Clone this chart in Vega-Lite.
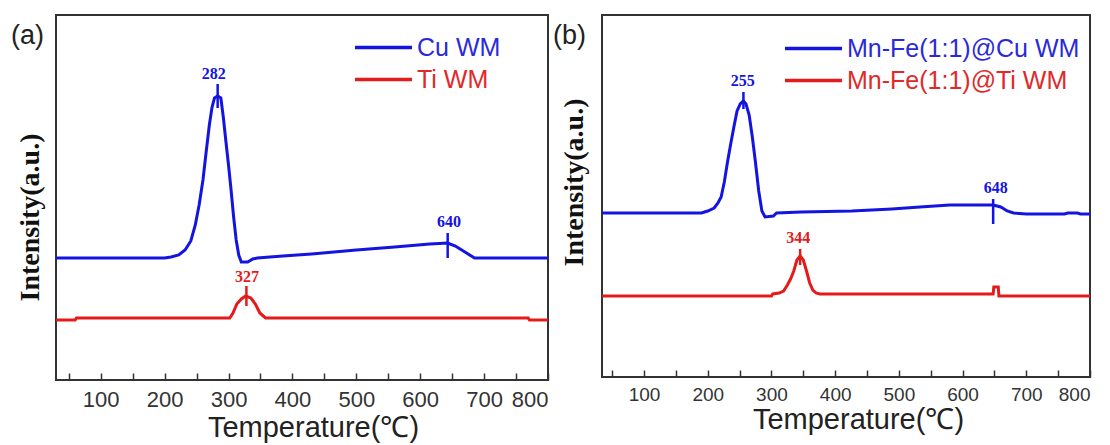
{
  "$schema": "https://vega.github.io/schema/vega-lite/v6.json",
  "background": "white",
  "padding": {"left": 10, "top": 14, "right": 0, "bottom": 0},
  "spacing": -3,
  "config": {
    "view": {"stroke": "#333333", "strokeWidth": 2},
    "font": "Liberation Sans",
    "axis": {"grid": false, "domain": false}
  },
  "resolve": {"scale": {"color": "independent"}, "legend": {"color": "independent"}},
  "datasets": {
    "a_curves": [
      {"series": "Cu WM", "temperature": 30, "intensity": 122},
      {"series": "Cu WM", "temperature": 200, "intensity": 122},
      {"series": "Cu WM", "temperature": 210, "intensity": 123},
      {"series": "Cu WM", "temperature": 222, "intensity": 125},
      {"series": "Cu WM", "temperature": 232, "intensity": 130},
      {"series": "Cu WM", "temperature": 241, "intensity": 139},
      {"series": "Cu WM", "temperature": 248, "intensity": 155},
      {"series": "Cu WM", "temperature": 254, "intensity": 175},
      {"series": "Cu WM", "temperature": 260, "intensity": 200},
      {"series": "Cu WM", "temperature": 265, "intensity": 228},
      {"series": "Cu WM", "temperature": 270, "intensity": 255},
      {"series": "Cu WM", "temperature": 274, "intensity": 272},
      {"series": "Cu WM", "temperature": 278, "intensity": 282},
      {"series": "Cu WM", "temperature": 283, "intensity": 284},
      {"series": "Cu WM", "temperature": 288, "intensity": 282},
      {"series": "Cu WM", "temperature": 292, "intensity": 262},
      {"series": "Cu WM", "temperature": 296, "intensity": 238},
      {"series": "Cu WM", "temperature": 300, "intensity": 215},
      {"series": "Cu WM", "temperature": 304, "intensity": 190},
      {"series": "Cu WM", "temperature": 308, "intensity": 163},
      {"series": "Cu WM", "temperature": 312, "intensity": 140},
      {"series": "Cu WM", "temperature": 316, "intensity": 125},
      {"series": "Cu WM", "temperature": 320, "intensity": 118},
      {"series": "Cu WM", "temperature": 330, "intensity": 118},
      {"series": "Cu WM", "temperature": 338, "intensity": 121},
      {"series": "Cu WM", "temperature": 345, "intensity": 122},
      {"series": "Cu WM", "temperature": 385, "intensity": 124},
      {"series": "Cu WM", "temperature": 430, "intensity": 126},
      {"series": "Cu WM", "temperature": 500, "intensity": 130},
      {"series": "Cu WM", "temperature": 560, "intensity": 133},
      {"series": "Cu WM", "temperature": 615, "intensity": 136},
      {"series": "Cu WM", "temperature": 643, "intensity": 137},
      {"series": "Cu WM", "temperature": 655, "intensity": 134},
      {"series": "Cu WM", "temperature": 670, "intensity": 128},
      {"series": "Cu WM", "temperature": 685, "intensity": 122},
      {"series": "Cu WM", "temperature": 800, "intensity": 122},
      {"series": "Ti WM", "temperature": 30, "intensity": 60},
      {"series": "Ti WM", "temperature": 60, "intensity": 60},
      {"series": "Ti WM", "temperature": 62, "intensity": 62},
      {"series": "Ti WM", "temperature": 302, "intensity": 62},
      {"series": "Ti WM", "temperature": 307, "intensity": 67},
      {"series": "Ti WM", "temperature": 313, "intensity": 76},
      {"series": "Ti WM", "temperature": 320, "intensity": 81},
      {"series": "Ti WM", "temperature": 327, "intensity": 84},
      {"series": "Ti WM", "temperature": 335, "intensity": 82},
      {"series": "Ti WM", "temperature": 342, "intensity": 76},
      {"series": "Ti WM", "temperature": 349, "intensity": 67},
      {"series": "Ti WM", "temperature": 358, "intensity": 62},
      {"series": "Ti WM", "temperature": 769, "intensity": 62},
      {"series": "Ti WM", "temperature": 771, "intensity": 60},
      {"series": "Ti WM", "temperature": 800, "intensity": 60}
    ],
    "a_markers": [
      {"series": "Cu WM", "temperature": 283, "intensity": 272, "intensity_top": 296},
      {"series": "Cu WM", "temperature": 643, "intensity": 122, "intensity_top": 147},
      {"series": "Ti WM", "temperature": 328, "intensity": 74, "intensity_top": 94}
    ],
    "a_labels": [
      {"series": "Cu WM", "temperature": 277, "intensity": 306, "label": "282"},
      {"series": "Cu WM", "temperature": 645, "intensity": 158, "label": "640"},
      {"series": "Ti WM", "temperature": 329, "intensity": 103, "label": "327"}
    ],
    "b_curves": [
      {"series": "Mn-Fe(1:1)@Cu WM", "temperature": 34, "intensity": 164},
      {"series": "Mn-Fe(1:1)@Cu WM", "temperature": 190, "intensity": 164},
      {"series": "Mn-Fe(1:1)@Cu WM", "temperature": 200, "intensity": 166},
      {"series": "Mn-Fe(1:1)@Cu WM", "temperature": 210, "intensity": 169},
      {"series": "Mn-Fe(1:1)@Cu WM", "temperature": 216, "intensity": 174},
      {"series": "Mn-Fe(1:1)@Cu WM", "temperature": 221, "intensity": 180},
      {"series": "Mn-Fe(1:1)@Cu WM", "temperature": 226, "intensity": 195},
      {"series": "Mn-Fe(1:1)@Cu WM", "temperature": 231, "intensity": 215},
      {"series": "Mn-Fe(1:1)@Cu WM", "temperature": 236, "intensity": 233},
      {"series": "Mn-Fe(1:1)@Cu WM", "temperature": 241, "intensity": 250},
      {"series": "Mn-Fe(1:1)@Cu WM", "temperature": 246, "intensity": 266},
      {"series": "Mn-Fe(1:1)@Cu WM", "temperature": 251, "intensity": 273},
      {"series": "Mn-Fe(1:1)@Cu WM", "temperature": 256, "intensity": 276},
      {"series": "Mn-Fe(1:1)@Cu WM", "temperature": 260, "intensity": 273},
      {"series": "Mn-Fe(1:1)@Cu WM", "temperature": 265, "intensity": 262},
      {"series": "Mn-Fe(1:1)@Cu WM", "temperature": 270, "intensity": 240},
      {"series": "Mn-Fe(1:1)@Cu WM", "temperature": 275, "intensity": 214},
      {"series": "Mn-Fe(1:1)@Cu WM", "temperature": 280, "intensity": 186},
      {"series": "Mn-Fe(1:1)@Cu WM", "temperature": 285, "intensity": 166},
      {"series": "Mn-Fe(1:1)@Cu WM", "temperature": 290, "intensity": 160},
      {"series": "Mn-Fe(1:1)@Cu WM", "temperature": 303, "intensity": 161},
      {"series": "Mn-Fe(1:1)@Cu WM", "temperature": 308, "intensity": 164},
      {"series": "Mn-Fe(1:1)@Cu WM", "temperature": 347, "intensity": 165},
      {"series": "Mn-Fe(1:1)@Cu WM", "temperature": 426, "intensity": 166},
      {"series": "Mn-Fe(1:1)@Cu WM", "temperature": 489, "intensity": 168},
      {"series": "Mn-Fe(1:1)@Cu WM", "temperature": 533, "intensity": 170},
      {"series": "Mn-Fe(1:1)@Cu WM", "temperature": 580, "intensity": 172},
      {"series": "Mn-Fe(1:1)@Cu WM", "temperature": 648, "intensity": 172},
      {"series": "Mn-Fe(1:1)@Cu WM", "temperature": 660, "intensity": 170},
      {"series": "Mn-Fe(1:1)@Cu WM", "temperature": 670, "intensity": 166},
      {"series": "Mn-Fe(1:1)@Cu WM", "temperature": 680, "intensity": 164},
      {"series": "Mn-Fe(1:1)@Cu WM", "temperature": 700, "intensity": 163},
      {"series": "Mn-Fe(1:1)@Cu WM", "temperature": 760, "intensity": 163},
      {"series": "Mn-Fe(1:1)@Cu WM", "temperature": 765, "intensity": 164},
      {"series": "Mn-Fe(1:1)@Cu WM", "temperature": 780, "intensity": 164},
      {"series": "Mn-Fe(1:1)@Cu WM", "temperature": 785, "intensity": 163},
      {"series": "Mn-Fe(1:1)@Cu WM", "temperature": 800, "intensity": 163},
      {"series": "Mn-Fe(1:1)@Ti WM", "temperature": 34, "intensity": 81},
      {"series": "Mn-Fe(1:1)@Ti WM", "temperature": 300, "intensity": 81},
      {"series": "Mn-Fe(1:1)@Ti WM", "temperature": 302, "intensity": 83},
      {"series": "Mn-Fe(1:1)@Ti WM", "temperature": 312, "intensity": 84},
      {"series": "Mn-Fe(1:1)@Ti WM", "temperature": 319, "intensity": 86},
      {"series": "Mn-Fe(1:1)@Ti WM", "temperature": 325, "intensity": 92},
      {"series": "Mn-Fe(1:1)@Ti WM", "temperature": 330, "intensity": 98},
      {"series": "Mn-Fe(1:1)@Ti WM", "temperature": 335, "intensity": 106},
      {"series": "Mn-Fe(1:1)@Ti WM", "temperature": 340, "intensity": 117},
      {"series": "Mn-Fe(1:1)@Ti WM", "temperature": 345, "intensity": 121},
      {"series": "Mn-Fe(1:1)@Ti WM", "temperature": 350, "intensity": 117},
      {"series": "Mn-Fe(1:1)@Ti WM", "temperature": 355, "intensity": 106},
      {"series": "Mn-Fe(1:1)@Ti WM", "temperature": 360, "intensity": 94},
      {"series": "Mn-Fe(1:1)@Ti WM", "temperature": 365, "intensity": 87},
      {"series": "Mn-Fe(1:1)@Ti WM", "temperature": 370, "intensity": 84},
      {"series": "Mn-Fe(1:1)@Ti WM", "temperature": 376, "intensity": 83},
      {"series": "Mn-Fe(1:1)@Ti WM", "temperature": 648, "intensity": 83},
      {"series": "Mn-Fe(1:1)@Ti WM", "temperature": 649, "intensity": 90},
      {"series": "Mn-Fe(1:1)@Ti WM", "temperature": 656, "intensity": 90},
      {"series": "Mn-Fe(1:1)@Ti WM", "temperature": 657, "intensity": 81},
      {"series": "Mn-Fe(1:1)@Ti WM", "temperature": 800, "intensity": 81}
    ],
    "b_markers": [
      {"series": "Mn-Fe(1:1)@Cu WM", "temperature": 256, "intensity": 268, "intensity_top": 285},
      {"series": "Mn-Fe(1:1)@Cu WM", "temperature": 648, "intensity": 153, "intensity_top": 178},
      {"series": "Mn-Fe(1:1)@Ti WM", "temperature": 345, "intensity": 112, "intensity_top": 128}
    ],
    "b_labels": [
      {"series": "Mn-Fe(1:1)@Cu WM", "temperature": 255, "intensity": 296, "label": "255"},
      {"series": "Mn-Fe(1:1)@Cu WM", "temperature": 652, "intensity": 189, "label": "648"},
      {"series": "Mn-Fe(1:1)@Ti WM", "temperature": 342, "intensity": 139, "label": "344"}
    ]
  },
  "hconcat": [
    {
      "width": 492,
      "height": 365,
      "title": {"text": "(a)", "anchor": "start", "frame": "group", "orient": "top", "offset": -35, "dx": -45, "fontSize": 27, "fontWeight": "normal", "font": "Liberation Sans", "color": "#222222"},
      "encoding": {
        "x": {"field": "temperature", "type": "quantitative", "scale": {"domain": [30, 800], "nice": false, "zero": false},
          "axis": {"values": [50, 100, 150, 200, 250, 300, 350, 400, 450, 500, 550, 600, 650, 700, 750, 800],
            "labelExpr": "datum.value % 100 == 0 ? datum.label : ''",
            "title": "Temperature(℃)", "titleFont": "Liberation Sans", "titleFontSize": 29, "titleFontWeight": "normal", "titleColor": "#222222",
            "titleX": 257, "titleY": 56, "titleAlign": "center", "titleBaseline": "alphabetic",
            "labelFont": "Liberation Sans", "labelFontSize": 22, "labelColor": "#333333", "labelPadding": 16, "labelFlush": true, "labelOverlap": false,
            "tickSize": -7, "tickWidth": 1.5, "tickColor": "#333333", "domain": false, "grid": false,
            "encode": {"ticks": {"update": {"y2": {"signal": "datum.value % 100 == 0 ? -7 : -4"}}}}}},
        "y": {"field": "intensity", "type": "quantitative", "scale": {"domain": [0, 365], "nice": false, "zero": false},
          "axis": {"title": "Intensity(a.u.)", "titleFont": "Liberation Serif", "titleFontWeight": "bold", "titleFontSize": 28, "titleColor": "#111111",
            "titleX": -26, "titleY": 202, "titleAlign": "center", "titleBaseline": "middle", "titleAngle": 270,
            "labels": false, "ticks": false, "domain": false, "grid": false}},
        "color": {"field": "series", "type": "nominal", "scale": {"domain": ["Cu WM", "Ti WM"], "range": ["#1414e0", "#e41b1b"]},
          "legend": {"title": null, "orient": "none", "legendX": 315, "legendY": 20, "direction": "vertical",
            "symbolType": "M-3,0H3", "symbolSize": 361, "symbolStrokeWidth": 3.5,
            "labelFont": "Liberation Sans", "labelFontSize": 25, "labelOffset": 21, "rowPadding": 6, "padding": 0, "labelLimit": 400,
            "encode": {"labels": {"update": {"fill": {"signal": "indexof(datum.value, 'Cu') >= 0 ? '#2a2ad8' : '#e02a2a'"}}}}}}
      },
      "layer": [
        {"data": {"name": "a_curves"}, "mark": {"type": "line", "strokeWidth": 3}},
        {"data": {"name": "a_markers"}, "mark": {"type": "rule", "strokeWidth": 2.5}, "encoding": {"y2": {"field": "intensity_top"}}},
        {"data": {"name": "a_labels"}, "mark": {"type": "text", "font": "Liberation Serif", "fontWeight": "bold", "fontSize": 16, "baseline": "middle"}, "encoding": {"text": {"field": "label"}}}
      ]
    },
    {
      "width": 488,
      "height": 362,
      "title": {"text": "(b)", "anchor": "start", "frame": "group", "orient": "top", "offset": -35, "dx": -49, "fontSize": 27, "fontWeight": "normal", "font": "Liberation Sans", "color": "#222222"},
      "encoding": {
        "x": {"field": "temperature", "type": "quantitative", "scale": {"domain": [34, 800], "nice": false, "zero": false},
          "axis": {"values": [50, 100, 150, 200, 250, 300, 350, 400, 450, 500, 550, 600, 650, 700, 750, 800],
            "labelExpr": "datum.value % 100 == 0 ? datum.label : ''",
            "title": "Temperature(℃)", "titleFont": "Liberation Sans", "titleFontSize": 29, "titleFontWeight": "normal", "titleColor": "#222222",
            "titleX": 256, "titleY": 51, "titleAlign": "center", "titleBaseline": "alphabetic",
            "labelFont": "Liberation Sans", "labelFontSize": 19, "labelColor": "#333333", "labelPadding": 15, "labelOverlap": false,
            "tickSize": -7, "tickWidth": 1.5, "tickColor": "#333333", "domain": false, "grid": false,
            "encode": {"ticks": {"update": {"y2": {"signal": "datum.value % 100 == 0 ? -7 : -4"}}}}}},
        "y": {"field": "intensity", "type": "quantitative", "scale": {"domain": [0, 362], "nice": false, "zero": false},
          "axis": {"title": "Intensity(a.u.)", "titleFont": "Liberation Serif", "titleFontWeight": "bold", "titleFontSize": 28, "titleColor": "#111111",
            "titleX": -28, "titleY": 167, "titleAlign": "center", "titleBaseline": "middle", "titleAngle": 270,
            "labels": false, "ticks": false, "domain": false, "grid": false}},
        "color": {"field": "series", "type": "nominal", "scale": {"domain": ["Mn-Fe(1:1)@Cu WM", "Mn-Fe(1:1)@Ti WM"], "range": ["#1414e0", "#e41b1b"]},
          "legend": {"title": null, "orient": "none", "legendX": 199, "legendY": 21, "direction": "vertical",
            "symbolType": "M-3,0H3", "symbolSize": 361, "symbolStrokeWidth": 3.5,
            "labelFont": "Liberation Sans", "labelFontSize": 25, "labelOffset": 21, "rowPadding": 6, "padding": 0, "labelLimit": 400,
            "encode": {"labels": {"update": {"fill": {"signal": "indexof(datum.value, 'Cu') >= 0 ? '#2a2ad8' : '#e02a2a'"}}}}}}
      },
      "layer": [
        {"data": {"name": "b_curves"}, "mark": {"type": "line", "strokeWidth": 3}},
        {"data": {"name": "b_markers"}, "mark": {"type": "rule", "strokeWidth": 2.5}, "encoding": {"y2": {"field": "intensity_top"}}},
        {"data": {"name": "b_labels"}, "mark": {"type": "text", "font": "Liberation Serif", "fontWeight": "bold", "fontSize": 16, "baseline": "middle"}, "encoding": {"text": {"field": "label"}}}
      ]
    }
  ]
}
